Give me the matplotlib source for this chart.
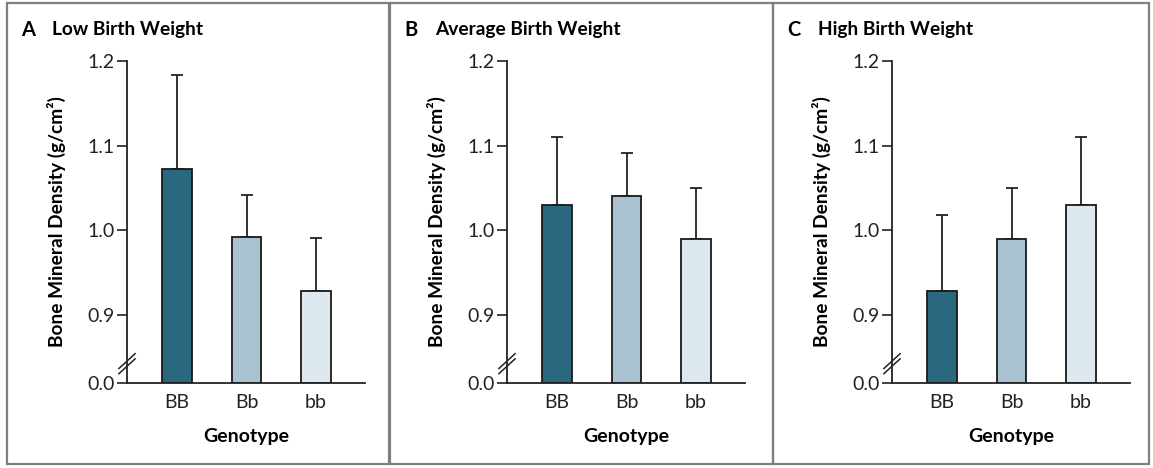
import numpy as np
import matplotlib.pyplot as plt
from matplotlib.patches import Rectangle

plt.rcParams['font.family'] = ['Lato', 'DejaVu Sans']

genotypes = ["BB", "Bb", "bb"]
letters = ["A", "B", "C"]
titles = ["Low Birth Weight", "Average Birth Weight", "High Birth Weight"]
low_mean = [1.073, 0.992, 0.928]
low_top = [1.183, 1.042, 0.991]
avg_mean = [1.030, 1.041, 0.990]
avg_top = [1.110, 1.091, 1.050]
high_mean = [0.928, 0.990, 1.030]
high_top = [1.018, 1.050, 1.110]
colors = ["#2a6880", "#a9c2d0", "#dde8ef"]

means = [low_mean, avg_mean, high_mean]
tops = [low_top, avg_top, high_top]

W, H = 1153, 468
fig = plt.figure(figsize=(W / 100, H / 100), dpi=100)

ybot = 0.82
ax_lefts = [127, 507, 892]
borders = [(7, 389), (390, 773), (773, 1149)]

for i in range(3):
    # panel frame
    x0, x1 = borders[i]
    fig.patches.append(Rectangle((x0 / W, 4 / H), (x1 - x0) / W, 461 / H,
                                 transform=fig.transFigure, fill=False,
                                 edgecolor="#7f7f7f", lw=1.6))
    ax = fig.add_axes([ax_lefts[i] / W, 1 - 383 / H, 238 / W, 322 / H])
    x = np.arange(3)
    m = np.array(means[i])
    err = np.array(tops[i]) - m
    ax.bar(x, m - ybot, bottom=ybot, width=0.43, color=colors,
           edgecolor="#1a1a1a", linewidth=1.3, zorder=2)
    ax.errorbar(x, m, yerr=[np.zeros(3), err], fmt="none", ecolor="#222222",
                elinewidth=1.3, capsize=4.5, capthick=1.3, zorder=1)
    ax.set_xlim(-0.72, 2.705)
    ax.set_ylim(ybot, 1.2)
    ax.set_yticks([ybot, 0.9, 1.0, 1.1, 1.2])
    ax.set_yticklabels(["0.0", "0.9", "1.0", "1.1", "1.2"])
    ax.set_xticks(x)
    ax.set_xticklabels(genotypes)
    ax.tick_params(axis="y", direction="out", length=7, width=1.2,
                   labelsize=14, pad=2, colors="#222222")
    ax.tick_params(axis="x", length=0, labelsize=14, pad=8, colors="#222222")
    for s in ["top", "right"]:
        ax.spines[s].set_visible(False)
    for s in ["left", "bottom"]:
        ax.spines[s].set_linewidth(1.3)
        ax.spines[s].set_color("#222222")
    ax.set_xlabel("Genotype", fontsize=14, fontweight="bold", labelpad=12)
    ax.set_ylabel("Bone Mineral Density (g/cm²)", fontsize=13.8,
                  fontweight="bold", labelpad=15)

    # axis break marks
    dx, dy = 0.034, 0.023
    for yc in [0.068, 0.052]:
        ax.plot([-dx, dx], [yc - dy, yc + dy], transform=ax.transAxes,
                color="#222222", lw=1.1, clip_on=False)

    fig.text((x0 + 14) / W, 1 - 30 / H, letters[i], fontsize=14.5,
             fontweight="bold", va="center", ha="left")
    fig.text((x0 + 45) / W, 1 - 30 / H, titles[i], fontsize=13.8,
             fontweight="bold", va="center", ha="left")

fig.savefig("out.png", dpi=100)
